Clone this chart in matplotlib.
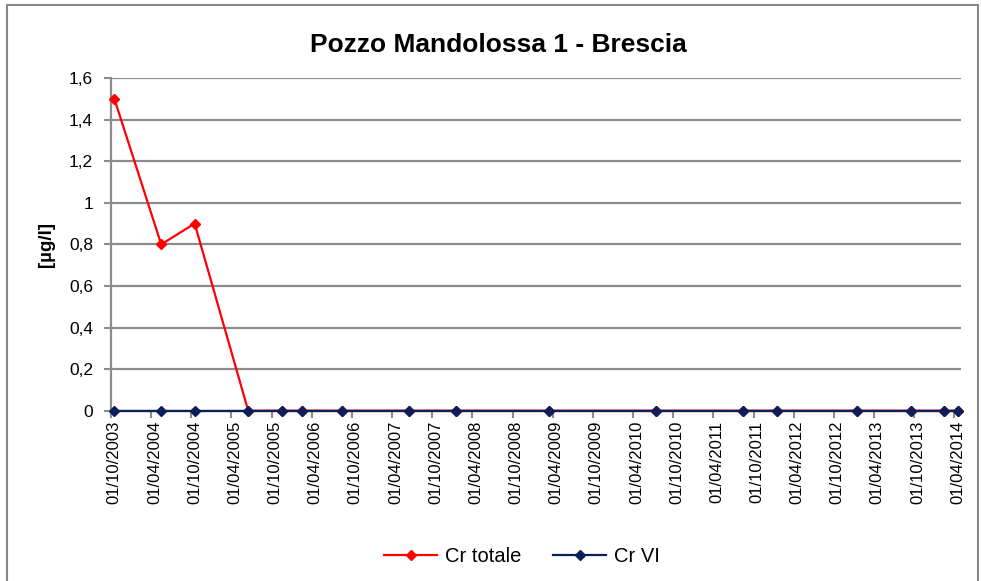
import numpy as np
import matplotlib
matplotlib.use("Agg")
import matplotlib.pyplot as plt
from matplotlib.patches import Rectangle

plt.rcParams["font.family"] = ["Liberation Sans", "DejaVu Sans"]

# month of each sample (Excel date axis, base unit = months)
cr_tot_dates = ["2003-10", "2004-05", "2004-10", "2005-06", "2005-11", "2006-02",
                "2006-08", "2007-06", "2008-01", "2009-03", "2010-07", "2011-08",
                "2012-01", "2013-01", "2013-09", "2014-02", "2014-04"]
cr_tot_values = [1.5, 0.8, 0.9, 0, 0, 0, 0, 0, 0, 0, 0, 0, 0, 0, 0, 0, 0]

cr_vi_dates = ["2003-10", "2004-05", "2004-10", "2005-06", "2005-11", "2006-02",
               "2006-08", "2007-06", "2008-01", "2009-03", "2010-07", "2011-08",
               "2012-01", "2013-01", "2013-09", "2014-02", "2014-04"]
cr_vi_values = [0] * 17

tick_labels = ["01/10/2003", "01/04/2004", "01/10/2004", "01/04/2005", "01/10/2005",
               "01/04/2006", "01/10/2006", "01/04/2007", "01/10/2007", "01/04/2008",
               "01/10/2008", "01/04/2009", "01/10/2009", "01/04/2010", "01/10/2010",
               "01/04/2011", "01/10/2011", "01/04/2012", "01/10/2012", "01/04/2013",
               "01/10/2013", "01/04/2014"]
y_ticks = [0, 0.2, 0.4, 0.6, 0.8, 1.0, 1.2, 1.4, 1.6]

start_y, start_m = 2003, 10


def month_pos(s):
    y, m = map(int, s.split("-"))
    return (y - start_y) * 12 + (m - start_m) + 0.5


fig = plt.figure(figsize=(9.81, 5.81), dpi=100)
ax = fig.add_axes([111 / 981, 1 - 410.7 / 581, 850 / 981, 332.7 / 581])

# outer chart border
fig.patches.append(Rectangle((7 / 981, -0.05), 971 / 981, 1.05 - 5 / 581,
                             transform=fig.transFigure, fill=False,
                             edgecolor="#878787", linewidth=1.5))

red = "#FF0000"
navy = "#0A1E5A"
ax.plot([month_pos(d) for d in cr_tot_dates], cr_tot_values, color=red, lw=1.6,
        marker="D", ms=5.5, label="Cr totale", zorder=3, clip_on=False)
ax.plot([month_pos(d) for d in cr_vi_dates], cr_vi_values, color=navy, lw=1.6,
        marker="D", ms=5.5, label="Cr VI", zorder=4, clip_on=False)

ax.set_xlim(0, 127)
ax.set_ylim(0, 1.6)
ax.set_yticks(y_ticks)
ax.set_yticklabels([f"{v:g}".replace(".", ",") for v in y_ticks], fontsize=12.5)
ax.yaxis.grid(True, color="#8C8C8C", lw=1.6)
ax.set_axisbelow(True)

n = len(tick_labels)
ax.set_xticks(np.arange(n) * 6)
ax.set_xticklabels([])
ax.set_xticks(np.arange(n) * 6 + 0.5, minor=True)
ax.set_xticklabels(tick_labels, minor=True, rotation=90, fontsize=12)
ax.tick_params(axis="x", which="major", length=5, color="#8C8C8C", width=1.5)
ax.tick_params(axis="x", which="minor", length=0, pad=7)
ax.tick_params(axis="y", length=5, color="#8C8C8C", width=1.5, pad=8)

for side in ["top", "right"]:
    ax.spines[side].set_visible(False)
ax.spines["left"].set_color("#8C8C8C")
ax.spines["left"].set_linewidth(1.6)
ax.spines["bottom"].set_color("#8C8C8C")
ax.spines["bottom"].set_linewidth(1.6)

ax.set_ylabel("[µg/l]", fontsize=13.5, fontweight="bold", labelpad=10)
fig.text(0.508, 1 - 45 / 581, "Pozzo Mandolossa 1 - Brescia", ha="center", va="center",
         fontsize=19, fontweight="bold")

fig.legend(loc="center", bbox_to_anchor=(522 / 981, 1 - 557 / 581), ncol=2,
           frameon=False, fontsize=14.5, handlelength=2.6, columnspacing=1.6,
           handletextpad=0.4)

fig.savefig("out.png", dpi=100)
